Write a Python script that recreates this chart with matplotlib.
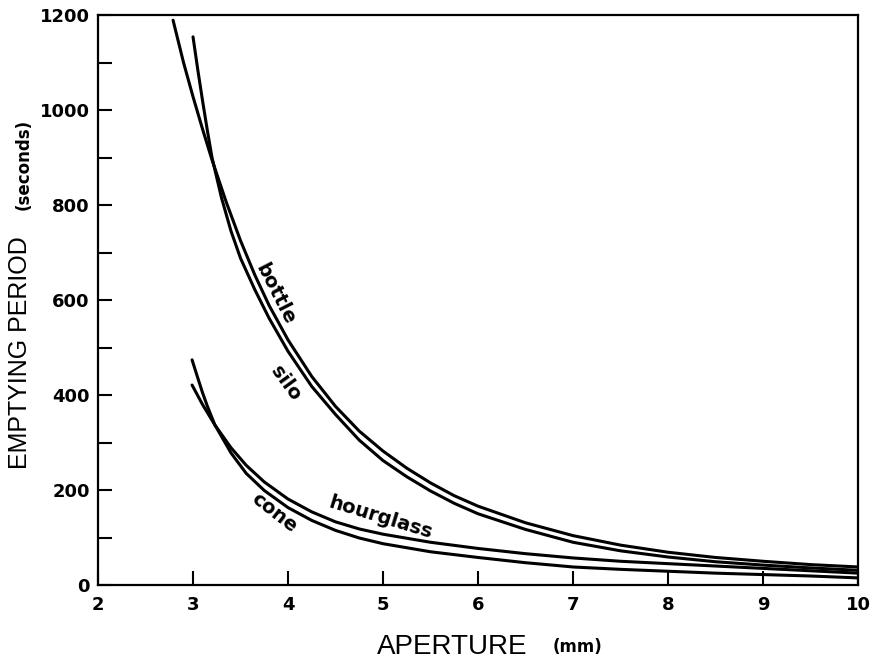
import matplotlib
matplotlib.use("Agg")
import matplotlib.pyplot as plt
from matplotlib.ticker import MultipleLocator

# values (aperture in mm, emptying period in s)
bottle_x = [2.79, 2.9, 3.0, 3.1, 3.2, 3.35, 3.5, 3.65, 3.8, 4.0, 4.25, 4.5, 4.75,
            5.0, 5.25, 5.5, 5.75, 6.0, 6.5, 7.0, 7.5, 8.0, 8.5, 9.0, 9.5, 10.0]
bottle_y = [1189, 1100, 1028, 960, 895, 806, 725, 653, 589, 516, 439, 376, 324,
            282, 246, 215, 188, 166, 131, 104, 84, 69, 58, 50, 43, 38]

silo_x = [3.0, 3.05, 3.1, 3.15, 3.2, 3.3, 3.4, 3.5, 3.65, 3.8, 4.0, 4.25, 4.5,
          4.75, 5.0, 5.25, 5.5, 5.75, 6.0, 6.5, 7.0, 7.5, 8.0, 8.5, 9.0, 9.5, 10.0]
silo_y = [1154, 1085, 1020, 958, 900, 815, 745, 688, 622, 562, 492, 418, 359,
          305, 262, 228, 198, 172, 150, 117, 90, 72, 59, 49, 42, 36, 31]

hourglass_x = [2.99, 3.1, 3.23, 3.4, 3.56, 3.75, 4.0, 4.25, 4.5, 4.75, 5.0, 5.5,
               6.0, 6.5, 7.0, 7.5, 8.0, 8.5, 9.0, 9.5, 10.0]
hourglass_y = [421, 380, 337, 289, 252, 217, 181, 154, 133, 118, 107, 90,
               77, 66, 57, 50, 45, 40, 35, 30, 25]

cone_x = [2.99, 3.05, 3.1, 3.15, 3.23, 3.4, 3.56, 3.75, 4.0, 4.25, 4.5, 4.75,
          5.0, 5.5, 6.0, 6.5, 7.0, 7.5, 8.0, 8.5, 9.0, 9.5, 10.0]
cone_y = [474, 436, 405, 377, 337, 278, 235, 199, 163, 136, 115, 99,
          87, 70, 58, 47, 38, 33, 29, 25, 22, 19, 15]

# curve name, text position, rotation
labels = [("bottle", 3.87, 612, -63),
          ("silo", 3.98, 424, -54),
          ("cone", 3.85, 153, -38),
          ("hourglass", 4.97, 141, -17)]

plt.rcParams['font.family'] = ['DejaVu Sans']

fig = plt.figure(figsize=(8.72, 6.67), dpi=100)
ax = fig.add_axes([0.1124, 0.1229, 0.8716, 0.8546])

for xs, ys in [(bottle_x, bottle_y), (silo_x, silo_y),
               (hourglass_x, hourglass_y), (cone_x, cone_y)]:
    ax.plot(xs, ys, color='k', lw=2.2, solid_capstyle='round',
            solid_joinstyle='round')

for name, lx, ly, rot in labels:
    ax.text(lx, ly, name, rotation=rot, rotation_mode='anchor',
            ha='center', va='center', fontsize=14, fontweight='bold')

ax.set_xlim(2, 10)
ax.set_ylim(0, 1200)
ax.xaxis.set_major_locator(MultipleLocator(1))
ax.yaxis.set_major_locator(MultipleLocator(200))
ax.yaxis.set_minor_locator(MultipleLocator(100))
ax.tick_params(which='both', direction='in', length=10, width=1.5,
               top=False, right=False, labelsize=13)
ax.tick_params(axis='y', pad=6)
ax.tick_params(axis='x', pad=8)
for lab in ax.get_xticklabels() + ax.get_yticklabels():
    lab.set_fontweight('bold')
for sp in ax.spines.values():
    sp.set_linewidth(1.6)

fig.text(0.023, 0.472, "EMPTYING PERIOD", rotation=90, ha='center',
         va='center', fontsize=18, family='Liberation Sans')
fig.text(0.027, 0.753, "(seconds)", rotation=90, ha='center',
         va='center', fontsize=12, fontweight='bold')
fig.text(0.518, 0.030, "APERTURE", ha='center', va='center', fontsize=20,
         family='Liberation Sans')
fig.text(0.662, 0.030, "(mm)", ha='center', va='center', fontsize=12,
         fontweight='bold')

fig.savefig("out.png", dpi=100)
